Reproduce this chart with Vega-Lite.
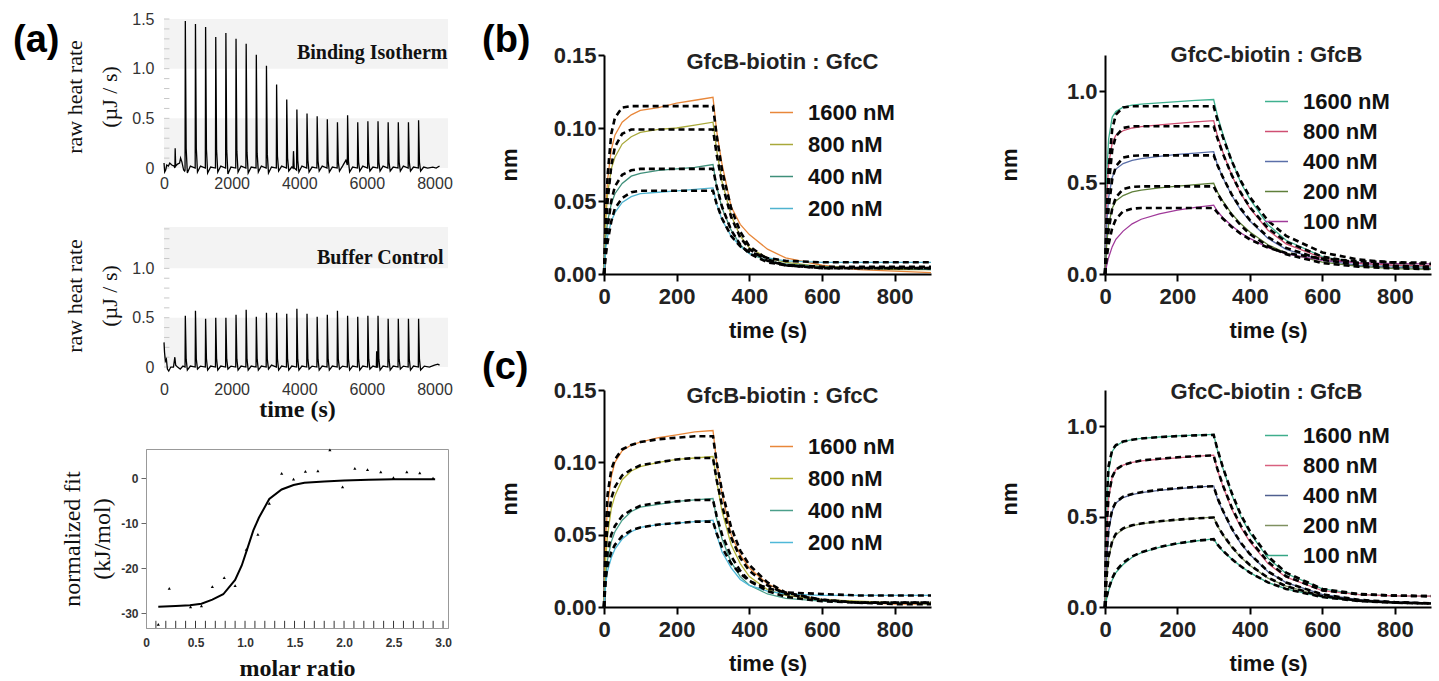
{
"$schema":"https://vega.github.io/schema/vega-lite/v6.json",
"background":"white",
"padding":{"left":13,"top":11,"right":2,"bottom":0},
"config":{"view":{"stroke":null},"axis":{"grid":false},"font":"Liberation Sans"},
"resolve":{"scale":{"color":"independent"},"legend":{"color":"independent"}},
"datasets":{
"yTicks1":[{"y":0},{"y":0.1},{"y":0.2},{"y":0.3},{"y":0.4},{"y":0.5},{"y":0.6},{"y":0.7},{"y":0.8},{"y":0.9},{"y":1},{"y":1.1},{"y":1.2},{"y":1.3},{"y":1.4},{"y":1.5}],
"yTicks2":[{"y":0},{"y":0.1},{"y":0.2},{"y":0.3},{"y":0.4},{"y":0.5},{"y":0.6},{"y":0.7},{"y":0.8},{"y":0.9},{"y":1},{"y":1.1},{"y":1.2},{"y":1.3},{"y":1.4}],
"itc1":[{"t":0,"y":0.05},{"t":20,"y":-0.04},{"t":50,"y":-0.02},{"t":80,"y":0.03},{"t":130,"y":0.02},{"t":170,"y":0.05},{"t":230,"y":0.03},{"t":300,"y":0.02},{"t":322,"y":0},{"t":330,"y":0.2},{"t":345,"y":0.02},{"t":400,"y":0.04},{"t":460,"y":0.05},{"t":490,"y":0.1},{"t":530,"y":0.06},{"t":580,"y":-0.02},{"t":610,"y":-0.03},
{"t":622,"y":-0.02},{"t":630,"y":1.48},{"t":655,"y":0.2},{"t":690,"y":-0.05},{"t":780,"y":0.02},
{"t":922,"y":0},{"t":930,"y":1.45},{"t":955,"y":0.2},{"t":990,"y":-0.04},{"t":1080,"y":0.02},
{"t":1222,"y":0},{"t":1230,"y":1.42},{"t":1255,"y":0.19},{"t":1290,"y":-0.05},{"t":1380,"y":0.01},
{"t":1522,"y":0},{"t":1530,"y":1.32},{"t":1555,"y":0.18},{"t":1590,"y":-0.04},{"t":1680,"y":0.02},
{"t":1822,"y":0},{"t":1830,"y":1.36},{"t":1855,"y":0.18},{"t":1890,"y":-0.06},{"t":1980,"y":0.01},
{"t":2122,"y":0},{"t":2130,"y":1.3},{"t":2155,"y":0.17},{"t":2190,"y":-0.04},{"t":2280,"y":0.02},
{"t":2422,"y":0},{"t":2430,"y":1.25},{"t":2455,"y":0.16},{"t":2490,"y":-0.05},{"t":2580,"y":0.01},
{"t":2722,"y":0},{"t":2730,"y":1.14},{"t":2755,"y":0.15},{"t":2790,"y":-0.04},{"t":2880,"y":0.02},
{"t":3022,"y":0},{"t":3030,"y":1.03},{"t":3055,"y":0.14},{"t":3090,"y":-0.05},{"t":3180,"y":0.01},
{"t":3322,"y":0},{"t":3330,"y":0.84},{"t":3355,"y":0.12},{"t":3390,"y":-0.03},{"t":3480,"y":0.02},
{"t":3622,"y":0},{"t":3630,"y":0.69},{"t":3655,"y":0.1},{"t":3690,"y":-0.03},{"t":3780,"y":0.01},{"t":3815,"y":0},{"t":3830,"y":0.17},{"t":3850,"y":0},
{"t":3922,"y":-0.02},{"t":3930,"y":0.59},{"t":3955,"y":0.08},{"t":3990,"y":-0.04},{"t":4080,"y":0.02},
{"t":4222,"y":0},{"t":4230,"y":0.55},{"t":4255,"y":0.08},{"t":4290,"y":-0.04},{"t":4380,"y":0.01},
{"t":4522,"y":0},{"t":4530,"y":0.52},{"t":4555,"y":0.07},{"t":4590,"y":-0.03},{"t":4680,"y":0.02},
{"t":4822,"y":0},{"t":4830,"y":0.49},{"t":4855,"y":0.07},{"t":4890,"y":-0.04},{"t":4980,"y":0.01},
{"t":5122,"y":0},{"t":5130,"y":0.46},{"t":5155,"y":0.06},{"t":5190,"y":-0.03},{"t":5280,"y":0.02},{"t":5380,"y":0.08},
{"t":5422,"y":0.03},{"t":5430,"y":0.53},{"t":5455,"y":0.07},{"t":5490,"y":-0.04},{"t":5580,"y":0.01},
{"t":5722,"y":0},{"t":5730,"y":0.46},{"t":5755,"y":0.06},{"t":5790,"y":-0.03},{"t":5880,"y":0.02},
{"t":6022,"y":0},{"t":6030,"y":0.47},{"t":6055,"y":0.06},{"t":6090,"y":-0.03},{"t":6180,"y":0.01},
{"t":6322,"y":0},{"t":6330,"y":0.47},{"t":6355,"y":0.06},{"t":6390,"y":-0.03},{"t":6480,"y":0.02},
{"t":6622,"y":0},{"t":6630,"y":0.46},{"t":6655,"y":0.06},{"t":6690,"y":-0.03},{"t":6780,"y":0.01},
{"t":6922,"y":0},{"t":6930,"y":0.46},{"t":6955,"y":0.06},{"t":6990,"y":-0.03},{"t":7080,"y":0.02},
{"t":7222,"y":0},{"t":7230,"y":0.46},{"t":7255,"y":0.06},{"t":7290,"y":-0.03},{"t":7380,"y":0.01},
{"t":7522,"y":0},{"t":7530,"y":0.48},{"t":7555,"y":0.06},{"t":7590,"y":-0.03},{"t":7680,"y":0.01},{"t":7800,"y":0},{"t":7950,"y":0.01},{"t":8050,"y":0},{"t":8150,"y":0.02}],
"itc2":[{"t":0,"y":0.25},{"t":15,"y":0.15},{"t":40,"y":0.06},{"t":70,"y":0.08},{"t":100,"y":-0.02},{"t":140,"y":-0.04},{"t":200,"y":0},{"t":280,"y":0},{"t":320,"y":0.1},{"t":345,"y":0.02},{"t":400,"y":0},{"t":480,"y":-0.02},{"t":560,"y":0.01},
{"t":622,"y":0},{"t":630,"y":0.52},{"t":655,"y":0.08},{"t":690,"y":-0.03},{"t":780,"y":0.01},
{"t":922,"y":0},{"t":930,"y":0.57},{"t":955,"y":0.08},{"t":990,"y":-0.02},{"t":1080,"y":0.01},
{"t":1222,"y":0},{"t":1230,"y":0.49},{"t":1255,"y":0.08},{"t":1290,"y":-0.03},{"t":1380,"y":0.01},
{"t":1522,"y":0},{"t":1530,"y":0.5},{"t":1555,"y":0.08},{"t":1590,"y":-0.03},{"t":1680,"y":0.01},
{"t":1822,"y":0},{"t":1830,"y":0.5},{"t":1855,"y":0.08},{"t":1890,"y":-0.02},{"t":1980,"y":0.01},
{"t":2122,"y":0},{"t":2130,"y":0.53},{"t":2155,"y":0.08},{"t":2190,"y":-0.03},{"t":2280,"y":0.01},
{"t":2422,"y":0},{"t":2430,"y":0.58},{"t":2455,"y":0.08},{"t":2490,"y":-0.03},{"t":2580,"y":0.01},
{"t":2722,"y":0},{"t":2730,"y":0.51},{"t":2755,"y":0.08},{"t":2790,"y":-0.03},{"t":2880,"y":0.01},
{"t":3022,"y":0},{"t":3030,"y":0.55},{"t":3055,"y":0.08},{"t":3090,"y":-0.02},{"t":3180,"y":0.02},
{"t":3322,"y":0},{"t":3330,"y":0.55},{"t":3355,"y":0.08},{"t":3390,"y":-0.03},{"t":3480,"y":0.01},
{"t":3622,"y":0},{"t":3630,"y":0.54},{"t":3655,"y":0.08},{"t":3690,"y":-0.03},{"t":3780,"y":0.01},
{"t":3922,"y":0},{"t":3930,"y":0.59},{"t":3955,"y":0.08},{"t":3990,"y":-0.03},{"t":4080,"y":0.01},
{"t":4222,"y":0},{"t":4230,"y":0.54},{"t":4255,"y":0.08},{"t":4290,"y":-0.02},{"t":4380,"y":0.01},
{"t":4522,"y":0},{"t":4530,"y":0.51},{"t":4555,"y":0.08},{"t":4590,"y":-0.03},{"t":4680,"y":0.01},
{"t":4822,"y":0},{"t":4830,"y":0.53},{"t":4855,"y":0.08},{"t":4890,"y":-0.03},{"t":4980,"y":0.01},
{"t":5122,"y":0},{"t":5130,"y":0.57},{"t":5155,"y":0.08},{"t":5190,"y":-0.02},{"t":5280,"y":0.01},
{"t":5422,"y":0},{"t":5430,"y":0.52},{"t":5455,"y":0.08},{"t":5490,"y":-0.03},{"t":5580,"y":0.01},
{"t":5722,"y":0},{"t":5730,"y":0.51},{"t":5755,"y":0.08},{"t":5790,"y":-0.03},{"t":5880,"y":0.01},
{"t":6022,"y":0},{"t":6030,"y":0.52},{"t":6055,"y":0.08},{"t":6090,"y":-0.02},{"t":6180,"y":0.01},{"t":6280,"y":0},{"t":6290,"y":0.16},{"t":6300,"y":0},
{"t":6322,"y":0},{"t":6330,"y":0.52},{"t":6355,"y":0.08},{"t":6390,"y":-0.03},{"t":6480,"y":0.01},
{"t":6622,"y":0},{"t":6630,"y":0.49},{"t":6655,"y":0.08},{"t":6690,"y":-0.03},{"t":6780,"y":0.01},
{"t":6922,"y":0},{"t":6930,"y":0.49},{"t":6955,"y":0.08},{"t":6990,"y":-0.02},{"t":7080,"y":0.01},
{"t":7222,"y":0},{"t":7230,"y":0.49},{"t":7255,"y":0.08},{"t":7290,"y":-0.03},{"t":7380,"y":0.01},
{"t":7522,"y":0},{"t":7530,"y":0.49},{"t":7555,"y":0.08},{"t":7590,"y":-0.03},{"t":7700,"y":0.01},{"t":7850,"y":0},{"t":8000,"y":0.02},{"t":8100,"y":0.03},{"t":8150,"y":0.02}],
"itcPts":[{"x":0.124,"y":-32.5},{"x":0.235,"y":-24.5},{"x":0.45,"y":-28.6},{"x":0.56,"y":-28.4},{"x":0.67,"y":-24.1},{"x":0.79,"y":-22.1},{"x":0.9,"y":-23.9},{"x":1.013,"y":-15.8},{"x":1.13,"y":-12.5},{"x":1.245,"y":-5.6},{"x":1.37,"y":1.1},{"x":1.49,"y":-0.2},{"x":1.61,"y":1.5},{"x":1.736,"y":1.65},{"x":1.857,"y":6.3},{"x":1.985,"y":-1.9},{"x":2.109,"y":2.2},{"x":2.237,"y":1.9},{"x":2.371,"y":1.4},{"x":2.499,"y":0.15},{"x":2.634,"y":1.4},{"x":2.765,"y":1.2},{"x":2.899,"y":0}],
"itcFit":[{"x":0.124,"y":-28.6},{"x":0.3,"y":-28.4},{"x":0.444,"y":-28.25},{"x":0.56,"y":-27.9},{"x":0.67,"y":-27},{"x":0.78,"y":-25.8},{"x":0.9,"y":-22.6},{"x":0.967,"y":-19.4},{"x":1.017,"y":-16.1},{"x":1.084,"y":-11.6},{"x":1.14,"y":-8.8},{"x":1.245,"y":-4.6},{"x":1.37,"y":-2.5},{"x":1.49,"y":-1.5},{"x":1.6,"y":-1},{"x":1.8,"y":-0.7},{"x":2,"y":-0.5},{"x":2.25,"y":-0.35},{"x":2.5,"y":-0.25},{"x":2.75,"y":-0.2},{"x":2.92,"y":-0.2}],
"itcTicks":[{"x":0.1},{"x":0.2},{"x":0.3},{"x":0.4},{"x":0.5},{"x":0.6},{"x":0.7},{"x":0.8},{"x":0.9},{"x":1},{"x":1.1},{"x":1.2},{"x":1.3},{"x":1.4},{"x":1.5},{"x":1.6},{"x":1.7},{"x":1.8},{"x":1.9},{"x":2},{"x":2.1},{"x":2.2},{"x":2.3},{"x":2.4},{"x":2.5},{"x":2.6},{"x":2.7},{"x":2.8},{"x":2.9},{"x":3}],
"b1":[
{"c":"1600 nM","t":0,"d":0,"f":0},{"c":"1600 nM","t":5,"d":0.045,"f":0.041},{"c":"1600 nM","t":10,"d":0.065,"f":0.068},{"c":"1600 nM","t":20,"d":0.085,"f":0.096},{"c":"1600 nM","t":30,"d":0.095,"f":0.107},{"c":"1600 nM","t":50,"d":0.104,"f":0.114},{"c":"1600 nM","t":75,"d":0.109,"f":0.115},{"c":"1600 nM","t":100,"d":0.112,"f":0.115},{"c":"1600 nM","t":150,"d":0.114,"f":0.115},{"c":"1600 nM","t":200,"d":0.117,"f":0.115},{"c":"1600 nM","t":250,"d":0.119,"f":0.115},{"c":"1600 nM","t":300,"d":0.121,"f":0.115},{"c":"1600 nM","t":310,"d":0.098,"f":0.095},{"c":"1600 nM","t":325,"d":0.075,"f":0.071},{"c":"1600 nM","t":350,"d":0.046,"f":0.045},{"c":"1600 nM","t":375,"d":0.034,"f":0.029},{"c":"1600 nM","t":400,"d":0.027,"f":0.019},{"c":"1600 nM","t":450,"d":0.017,"f":0.01},{"c":"1600 nM","t":500,"d":0.011,"f":0.006},{"c":"1600 nM","t":600,"d":0.006,"f":0.004},{"c":"1600 nM","t":700,"d":0.003,"f":0.004},{"c":"1600 nM","t":800,"d":0.002,"f":0.004},{"c":"1600 nM","t":900,"d":0.001,"f":0.004},
{"c":"800 nM","t":0,"d":0,"f":0},{"c":"800 nM","t":5,"d":0.038,"f":0.03},{"c":"800 nM","t":10,"d":0.055,"f":0.05},{"c":"800 nM","t":20,"d":0.072,"f":0.074},{"c":"800 nM","t":30,"d":0.08,"f":0.087},{"c":"800 nM","t":50,"d":0.089,"f":0.096},{"c":"800 nM","t":75,"d":0.094,"f":0.099},{"c":"800 nM","t":100,"d":0.097,"f":0.099},{"c":"800 nM","t":150,"d":0.099,"f":0.099},{"c":"800 nM","t":200,"d":0.1,"f":0.099},{"c":"800 nM","t":250,"d":0.102,"f":0.099},{"c":"800 nM","t":300,"d":0.104,"f":0.099},{"c":"800 nM","t":310,"d":0.085,"f":0.082},{"c":"800 nM","t":325,"d":0.063,"f":0.062},{"c":"800 nM","t":350,"d":0.04,"f":0.039},{"c":"800 nM","t":375,"d":0.026,"f":0.025},{"c":"800 nM","t":400,"d":0.018,"f":0.017},{"c":"800 nM","t":450,"d":0.011,"f":0.009},{"c":"800 nM","t":500,"d":0.008,"f":0.006},{"c":"800 nM","t":600,"d":0.005,"f":0.004},{"c":"800 nM","t":700,"d":0.004,"f":0.004},{"c":"800 nM","t":800,"d":0.003,"f":0.004},{"c":"800 nM","t":900,"d":0.003,"f":0.004},
{"c":"400 nM","t":0,"d":0,"f":0},{"c":"400 nM","t":5,"d":0.025,"f":0.019},{"c":"400 nM","t":10,"d":0.036,"f":0.032},{"c":"400 nM","t":20,"d":0.048,"f":0.05},{"c":"400 nM","t":30,"d":0.055,"f":0.06},{"c":"400 nM","t":50,"d":0.062,"f":0.068},{"c":"400 nM","t":75,"d":0.067,"f":0.071},{"c":"400 nM","t":100,"d":0.069,"f":0.072},{"c":"400 nM","t":150,"d":0.071,"f":0.072},{"c":"400 nM","t":200,"d":0.072,"f":0.072},{"c":"400 nM","t":250,"d":0.073,"f":0.072},{"c":"400 nM","t":300,"d":0.075,"f":0.072},{"c":"400 nM","t":310,"d":0.06,"f":0.06},{"c":"400 nM","t":325,"d":0.045,"f":0.046},{"c":"400 nM","t":350,"d":0.03,"f":0.03},{"c":"400 nM","t":375,"d":0.02,"f":0.02},{"c":"400 nM","t":400,"d":0.014,"f":0.014},{"c":"400 nM","t":450,"d":0.009,"f":0.008},{"c":"400 nM","t":500,"d":0.007,"f":0.006},{"c":"400 nM","t":600,"d":0.005,"f":0.005},{"c":"400 nM","t":700,"d":0.004,"f":0.005},{"c":"400 nM","t":800,"d":0.004,"f":0.005},{"c":"400 nM","t":900,"d":0.003,"f":0.005},
{"c":"200 nM","t":0,"d":0,"f":0},{"c":"200 nM","t":5,"d":0.018,"f":0.013},{"c":"200 nM","t":10,"d":0.026,"f":0.022},{"c":"200 nM","t":20,"d":0.036,"f":0.036},{"c":"200 nM","t":30,"d":0.042,"f":0.045},{"c":"200 nM","t":50,"d":0.049,"f":0.052},{"c":"200 nM","t":75,"d":0.053,"f":0.056},{"c":"200 nM","t":100,"d":0.055,"f":0.057},{"c":"200 nM","t":150,"d":0.056,"f":0.057},{"c":"200 nM","t":200,"d":0.057,"f":0.057},{"c":"200 nM","t":250,"d":0.058,"f":0.057},{"c":"200 nM","t":300,"d":0.059,"f":0.057},{"c":"200 nM","t":310,"d":0.048,"f":0.048},{"c":"200 nM","t":325,"d":0.037,"f":0.038},{"c":"200 nM","t":350,"d":0.026,"f":0.026},{"c":"200 nM","t":375,"d":0.019,"f":0.019},{"c":"200 nM","t":400,"d":0.014,"f":0.015},{"c":"200 nM","t":450,"d":0.011,"f":0.011},{"c":"200 nM","t":500,"d":0.009,"f":0.009},{"c":"200 nM","t":600,"d":0.008,"f":0.008},{"c":"200 nM","t":700,"d":0.008,"f":0.008},{"c":"200 nM","t":800,"d":0.008,"f":0.008},{"c":"200 nM","t":900,"d":0.008,"f":0.008}],
"b2":[
{"c":"1600 nM","t":0,"d":0,"f":0},{"c":"1600 nM","t":5,"d":0.55,"f":0.36},{"c":"1600 nM","t":10,"d":0.74,"f":0.58},{"c":"1600 nM","t":20,"d":0.86,"f":0.795},{"c":"1600 nM","t":30,"d":0.89,"f":0.873},{"c":"1600 nM","t":50,"d":0.914,"f":0.913},{"c":"1600 nM","t":75,"d":0.925,"f":0.919},{"c":"1600 nM","t":100,"d":0.931,"f":0.919},{"c":"1600 nM","t":150,"d":0.938,"f":0.919},{"c":"1600 nM","t":200,"d":0.945,"f":0.919},{"c":"1600 nM","t":250,"d":0.951,"f":0.919},{"c":"1600 nM","t":300,"d":0.956,"f":0.919},{"c":"1600 nM","t":310,"d":0.87,"f":0.848},{"c":"1600 nM","t":325,"d":0.77,"f":0.753},{"c":"1600 nM","t":350,"d":0.62,"f":0.618},{"c":"1600 nM","t":375,"d":0.5,"f":0.51},{"c":"1600 nM","t":400,"d":0.41,"f":0.421},{"c":"1600 nM","t":450,"d":0.27,"f":0.292},{"c":"1600 nM","t":500,"d":0.185,"f":0.209},{"c":"1600 nM","t":600,"d":0.095,"f":0.118},{"c":"1600 nM","t":700,"d":0.058,"f":0.079},{"c":"1600 nM","t":800,"d":0.045,"f":0.062},{"c":"1600 nM","t":900,"d":0.038,"f":0.055},
{"c":"800 nM","t":0,"d":0,"f":0},{"c":"800 nM","t":5,"d":0.42,"f":0.29},{"c":"800 nM","t":10,"d":0.6,"f":0.48},{"c":"800 nM","t":20,"d":0.72,"f":0.68},{"c":"800 nM","t":30,"d":0.76,"f":0.755},{"c":"800 nM","t":50,"d":0.785,"f":0.8},{"c":"800 nM","t":75,"d":0.8,"f":0.81},{"c":"800 nM","t":100,"d":0.808,"f":0.81},{"c":"800 nM","t":150,"d":0.817,"f":0.81},{"c":"800 nM","t":200,"d":0.825,"f":0.81},{"c":"800 nM","t":250,"d":0.833,"f":0.81},{"c":"800 nM","t":300,"d":0.84,"f":0.81},{"c":"800 nM","t":310,"d":0.76,"f":0.746},{"c":"800 nM","t":325,"d":0.67,"f":0.662},{"c":"800 nM","t":350,"d":0.54,"f":0.542},{"c":"800 nM","t":375,"d":0.44,"f":0.445},{"c":"800 nM","t":400,"d":0.36,"f":0.366},{"c":"800 nM","t":450,"d":0.24,"f":0.251},{"c":"800 nM","t":500,"d":0.165,"f":0.177},{"c":"800 nM","t":600,"d":0.088,"f":0.095},{"c":"800 nM","t":700,"d":0.058,"f":0.061},{"c":"800 nM","t":800,"d":0.048,"f":0.046},{"c":"800 nM","t":900,"d":0.044,"f":0.04},
{"c":"400 nM","t":0,"d":0,"f":0},{"c":"400 nM","t":5,"d":0.28,"f":0.215},{"c":"400 nM","t":10,"d":0.42,"f":0.36},{"c":"400 nM","t":20,"d":0.53,"f":0.52},{"c":"400 nM","t":30,"d":0.575,"f":0.59},{"c":"400 nM","t":50,"d":0.605,"f":0.638},{"c":"400 nM","t":75,"d":0.622,"f":0.648},{"c":"400 nM","t":100,"d":0.632,"f":0.65},{"c":"400 nM","t":150,"d":0.645,"f":0.65},{"c":"400 nM","t":200,"d":0.655,"f":0.65},{"c":"400 nM","t":250,"d":0.662,"f":0.65},{"c":"400 nM","t":300,"d":0.67,"f":0.65},{"c":"400 nM","t":310,"d":0.6,"f":0.599},{"c":"400 nM","t":325,"d":0.53,"f":0.532},{"c":"400 nM","t":350,"d":0.43,"f":0.435},{"c":"400 nM","t":375,"d":0.35,"f":0.358},{"c":"400 nM","t":400,"d":0.29,"f":0.295},{"c":"400 nM","t":450,"d":0.195,"f":0.203},{"c":"400 nM","t":500,"d":0.135,"f":0.143},{"c":"400 nM","t":600,"d":0.075,"f":0.078},{"c":"400 nM","t":700,"d":0.048,"f":0.05},{"c":"400 nM","t":800,"d":0.036,"f":0.039},{"c":"400 nM","t":900,"d":0.03,"f":0.034},
{"c":"200 nM","t":0,"d":0,"f":0},{"c":"200 nM","t":5,"d":0.17,"f":0.145},{"c":"200 nM","t":10,"d":0.27,"f":0.24},{"c":"200 nM","t":20,"d":0.36,"f":0.36},{"c":"200 nM","t":30,"d":0.4,"f":0.42},{"c":"200 nM","t":50,"d":0.43,"f":0.465},{"c":"200 nM","t":75,"d":0.45,"f":0.478},{"c":"200 nM","t":100,"d":0.46,"f":0.48},{"c":"200 nM","t":150,"d":0.472,"f":0.48},{"c":"200 nM","t":200,"d":0.482,"f":0.48},{"c":"200 nM","t":250,"d":0.49,"f":0.48},{"c":"200 nM","t":300,"d":0.497,"f":0.48},{"c":"200 nM","t":310,"d":0.45,"f":0.443},{"c":"200 nM","t":325,"d":0.4,"f":0.393},{"c":"200 nM","t":350,"d":0.33,"f":0.323},{"c":"200 nM","t":375,"d":0.275,"f":0.266},{"c":"200 nM","t":400,"d":0.23,"f":0.219},{"c":"200 nM","t":450,"d":0.16,"f":0.152},{"c":"200 nM","t":500,"d":0.115,"f":0.108},{"c":"200 nM","t":600,"d":0.065,"f":0.06},{"c":"200 nM","t":700,"d":0.042,"f":0.04},{"c":"200 nM","t":800,"d":0.03,"f":0.031},{"c":"200 nM","t":900,"d":0.025,"f":0.027},
{"c":"100 nM","t":0,"d":0,"f":0},{"c":"100 nM","t":5,"d":0.05,"f":0.094},{"c":"100 nM","t":10,"d":0.09,"f":0.163},{"c":"100 nM","t":20,"d":0.15,"f":0.253},{"c":"100 nM","t":30,"d":0.19,"f":0.3},{"c":"100 nM","t":50,"d":0.235,"f":0.344},{"c":"100 nM","t":75,"d":0.275,"f":0.358},{"c":"100 nM","t":100,"d":0.3,"f":0.362},{"c":"100 nM","t":150,"d":0.33,"f":0.362},{"c":"100 nM","t":200,"d":0.35,"f":0.362},{"c":"100 nM","t":250,"d":0.365,"f":0.362},{"c":"100 nM","t":300,"d":0.377,"f":0.362},{"c":"100 nM","t":310,"d":0.345,"f":0.337},{"c":"100 nM","t":325,"d":0.31,"f":0.304},{"c":"100 nM","t":350,"d":0.265,"f":0.258},{"c":"100 nM","t":375,"d":0.225,"f":0.22},{"c":"100 nM","t":400,"d":0.195,"f":0.189},{"c":"100 nM","t":450,"d":0.145,"f":0.144},{"c":"100 nM","t":500,"d":0.11,"f":0.115},{"c":"100 nM","t":600,"d":0.075,"f":0.084},{"c":"100 nM","t":700,"d":0.062,"f":0.07},{"c":"100 nM","t":800,"d":0.057,"f":0.064},{"c":"100 nM","t":900,"d":0.055,"f":0.062}],
"c1":[
{"c":"1600 nM","t":0,"d":0,"f":0},{"c":"1600 nM","t":5,"d":0.05,"f":0.055},{"c":"1600 nM","t":10,"d":0.07,"f":0.078},{"c":"1600 nM","t":20,"d":0.09,"f":0.095},{"c":"1600 nM","t":30,"d":0.1,"f":0.102},{"c":"1600 nM","t":50,"d":0.108,"f":0.109},{"c":"1600 nM","t":75,"d":0.112,"f":0.112},{"c":"1600 nM","t":100,"d":0.114,"f":0.114},{"c":"1600 nM","t":150,"d":0.117,"f":0.116},{"c":"1600 nM","t":200,"d":0.119,"f":0.117},{"c":"1600 nM","t":250,"d":0.121,"f":0.118},{"c":"1600 nM","t":300,"d":0.122,"f":0.118},{"c":"1600 nM","t":310,"d":0.1,"f":0.1},{"c":"1600 nM","t":325,"d":0.078,"f":0.08},{"c":"1600 nM","t":350,"d":0.05,"f":0.055},{"c":"1600 nM","t":375,"d":0.036,"f":0.039},{"c":"1600 nM","t":400,"d":0.027,"f":0.029},{"c":"1600 nM","t":450,"d":0.016,"f":0.017},{"c":"1600 nM","t":500,"d":0.01,"f":0.01},{"c":"1600 nM","t":600,"d":0.005,"f":0.005},{"c":"1600 nM","t":700,"d":0.003,"f":0.003},{"c":"1600 nM","t":800,"d":0.002,"f":0.003},{"c":"1600 nM","t":900,"d":0.002,"f":0.003},
{"c":"800 nM","t":0,"d":0,"f":0},{"c":"800 nM","t":5,"d":0.035,"f":0.04},{"c":"800 nM","t":10,"d":0.05,"f":0.058},{"c":"800 nM","t":20,"d":0.068,"f":0.075},{"c":"800 nM","t":30,"d":0.077,"f":0.083},{"c":"800 nM","t":50,"d":0.088,"f":0.091},{"c":"800 nM","t":75,"d":0.094,"f":0.095},{"c":"800 nM","t":100,"d":0.097,"f":0.098},{"c":"800 nM","t":150,"d":0.1,"f":0.1},{"c":"800 nM","t":200,"d":0.102,"f":0.102},{"c":"800 nM","t":250,"d":0.103,"f":0.103},{"c":"800 nM","t":300,"d":0.104,"f":0.103},{"c":"800 nM","t":310,"d":0.087,"f":0.088},{"c":"800 nM","t":325,"d":0.066,"f":0.07},{"c":"800 nM","t":350,"d":0.043,"f":0.048},{"c":"800 nM","t":375,"d":0.03,"f":0.034},{"c":"800 nM","t":400,"d":0.021,"f":0.025},{"c":"800 nM","t":450,"d":0.012,"f":0.015},{"c":"800 nM","t":500,"d":0.008,"f":0.009},{"c":"800 nM","t":600,"d":0.005,"f":0.005},{"c":"800 nM","t":700,"d":0.004,"f":0.003},{"c":"800 nM","t":800,"d":0.003,"f":0.003},{"c":"800 nM","t":900,"d":0.003,"f":0.003},
{"c":"400 nM","t":0,"d":0,"f":0},{"c":"400 nM","t":5,"d":0.022,"f":0.026},{"c":"400 nM","t":10,"d":0.033,"f":0.038},{"c":"400 nM","t":20,"d":0.045,"f":0.05},{"c":"400 nM","t":30,"d":0.052,"f":0.056},{"c":"400 nM","t":50,"d":0.06,"f":0.063},{"c":"400 nM","t":75,"d":0.066,"f":0.067},{"c":"400 nM","t":100,"d":0.069,"f":0.07},{"c":"400 nM","t":150,"d":0.071,"f":0.072},{"c":"400 nM","t":200,"d":0.073,"f":0.073},{"c":"400 nM","t":250,"d":0.074,"f":0.074},{"c":"400 nM","t":300,"d":0.075,"f":0.074},{"c":"400 nM","t":310,"d":0.061,"f":0.063},{"c":"400 nM","t":325,"d":0.047,"f":0.05},{"c":"400 nM","t":350,"d":0.031,"f":0.035},{"c":"400 nM","t":375,"d":0.021,"f":0.025},{"c":"400 nM","t":400,"d":0.015,"f":0.018},{"c":"400 nM","t":450,"d":0.009,"f":0.011},{"c":"400 nM","t":500,"d":0.006,"f":0.007},{"c":"400 nM","t":600,"d":0.004,"f":0.004},{"c":"400 nM","t":700,"d":0.003,"f":0.003},{"c":"400 nM","t":800,"d":0.003,"f":0.002},{"c":"400 nM","t":900,"d":0.002,"f":0.002},
{"c":"200 nM","t":0,"d":0,"f":0},{"c":"200 nM","t":5,"d":0.017,"f":0.02},{"c":"200 nM","t":10,"d":0.025,"f":0.029},{"c":"200 nM","t":20,"d":0.034,"f":0.038},{"c":"200 nM","t":30,"d":0.04,"f":0.043},{"c":"200 nM","t":50,"d":0.047,"f":0.049},{"c":"200 nM","t":75,"d":0.052,"f":0.053},{"c":"200 nM","t":100,"d":0.055,"f":0.055},{"c":"200 nM","t":150,"d":0.057,"f":0.057},{"c":"200 nM","t":200,"d":0.058,"f":0.058},{"c":"200 nM","t":250,"d":0.059,"f":0.059},{"c":"200 nM","t":300,"d":0.06,"f":0.059},{"c":"200 nM","t":310,"d":0.05,"f":0.051},{"c":"200 nM","t":325,"d":0.038,"f":0.041},{"c":"200 nM","t":350,"d":0.027,"f":0.03},{"c":"200 nM","t":375,"d":0.019,"f":0.023},{"c":"200 nM","t":400,"d":0.015,"f":0.018},{"c":"200 nM","t":450,"d":0.011,"f":0.013},{"c":"200 nM","t":500,"d":0.009,"f":0.01},{"c":"200 nM","t":600,"d":0.008,"f":0.009},{"c":"200 nM","t":700,"d":0.008,"f":0.008},{"c":"200 nM","t":800,"d":0.008,"f":0.008},{"c":"200 nM","t":900,"d":0.008,"f":0.008}],
"c2":[
{"c":"1600 nM","t":0,"d":0,"f":0},{"c":"1600 nM","t":5,"d":0.55,"f":0.6},{"c":"1600 nM","t":10,"d":0.75,"f":0.78},{"c":"1600 nM","t":20,"d":0.86,"f":0.87},{"c":"1600 nM","t":30,"d":0.89,"f":0.895},{"c":"1600 nM","t":50,"d":0.914,"f":0.915},{"c":"1600 nM","t":75,"d":0.925,"f":0.925},{"c":"1600 nM","t":100,"d":0.932,"f":0.932},{"c":"1600 nM","t":150,"d":0.94,"f":0.94},{"c":"1600 nM","t":200,"d":0.946,"f":0.945},{"c":"1600 nM","t":250,"d":0.951,"f":0.949},{"c":"1600 nM","t":300,"d":0.955,"f":0.952},{"c":"1600 nM","t":310,"d":0.87,"f":0.875},{"c":"1600 nM","t":325,"d":0.77,"f":0.775},{"c":"1600 nM","t":350,"d":0.62,"f":0.63},{"c":"1600 nM","t":375,"d":0.5,"f":0.51},{"c":"1600 nM","t":400,"d":0.41,"f":0.42},{"c":"1600 nM","t":450,"d":0.27,"f":0.28},{"c":"1600 nM","t":500,"d":0.185,"f":0.19},{"c":"1600 nM","t":600,"d":0.1,"f":0.1},{"c":"1600 nM","t":700,"d":0.07,"f":0.072},{"c":"1600 nM","t":800,"d":0.062,"f":0.063},{"c":"1600 nM","t":900,"d":0.06,"f":0.06},
{"c":"800 nM","t":0,"d":0,"f":0},{"c":"800 nM","t":5,"d":0.42,"f":0.45},{"c":"800 nM","t":10,"d":0.6,"f":0.62},{"c":"800 nM","t":20,"d":0.72,"f":0.72},{"c":"800 nM","t":30,"d":0.76,"f":0.76},{"c":"800 nM","t":50,"d":0.785,"f":0.785},{"c":"800 nM","t":75,"d":0.8,"f":0.8},{"c":"800 nM","t":100,"d":0.808,"f":0.81},{"c":"800 nM","t":150,"d":0.817,"f":0.82},{"c":"800 nM","t":200,"d":0.825,"f":0.828},{"c":"800 nM","t":250,"d":0.833,"f":0.834},{"c":"800 nM","t":300,"d":0.84,"f":0.838},{"c":"800 nM","t":310,"d":0.76,"f":0.765},{"c":"800 nM","t":325,"d":0.67,"f":0.675},{"c":"800 nM","t":350,"d":0.54,"f":0.55},{"c":"800 nM","t":375,"d":0.44,"f":0.45},{"c":"800 nM","t":400,"d":0.36,"f":0.37},{"c":"800 nM","t":450,"d":0.24,"f":0.25},{"c":"800 nM","t":500,"d":0.165,"f":0.17},{"c":"800 nM","t":600,"d":0.09,"f":0.092},{"c":"800 nM","t":700,"d":0.068,"f":0.07},{"c":"800 nM","t":800,"d":0.062,"f":0.063},{"c":"800 nM","t":900,"d":0.06,"f":0.06},
{"c":"400 nM","t":0,"d":0,"f":0},{"c":"400 nM","t":5,"d":0.28,"f":0.3},{"c":"400 nM","t":10,"d":0.42,"f":0.44},{"c":"400 nM","t":20,"d":0.53,"f":0.54},{"c":"400 nM","t":30,"d":0.575,"f":0.58},{"c":"400 nM","t":50,"d":0.605,"f":0.61},{"c":"400 nM","t":75,"d":0.622,"f":0.625},{"c":"400 nM","t":100,"d":0.632,"f":0.635},{"c":"400 nM","t":150,"d":0.645,"f":0.648},{"c":"400 nM","t":200,"d":0.655,"f":0.657},{"c":"400 nM","t":250,"d":0.662,"f":0.664},{"c":"400 nM","t":300,"d":0.67,"f":0.668},{"c":"400 nM","t":310,"d":0.6,"f":0.605},{"c":"400 nM","t":325,"d":0.53,"f":0.535},{"c":"400 nM","t":350,"d":0.43,"f":0.435},{"c":"400 nM","t":375,"d":0.35,"f":0.355},{"c":"400 nM","t":400,"d":0.29,"f":0.293},{"c":"400 nM","t":450,"d":0.195,"f":0.197},{"c":"400 nM","t":500,"d":0.135,"f":0.135},{"c":"400 nM","t":600,"d":0.07,"f":0.07},{"c":"400 nM","t":700,"d":0.04,"f":0.04},{"c":"400 nM","t":800,"d":0.028,"f":0.027},{"c":"400 nM","t":900,"d":0.022,"f":0.02},
{"c":"200 nM","t":0,"d":0,"f":0},{"c":"200 nM","t":5,"d":0.17,"f":0.18},{"c":"200 nM","t":10,"d":0.27,"f":0.28},{"c":"200 nM","t":20,"d":0.36,"f":0.365},{"c":"200 nM","t":30,"d":0.4,"f":0.405},{"c":"200 nM","t":50,"d":0.43,"f":0.435},{"c":"200 nM","t":75,"d":0.45,"f":0.452},{"c":"200 nM","t":100,"d":0.46,"f":0.462},{"c":"200 nM","t":150,"d":0.472,"f":0.474},{"c":"200 nM","t":200,"d":0.482,"f":0.483},{"c":"200 nM","t":250,"d":0.49,"f":0.49},{"c":"200 nM","t":300,"d":0.497,"f":0.495},{"c":"200 nM","t":310,"d":0.45,"f":0.452},{"c":"200 nM","t":325,"d":0.4,"f":0.402},{"c":"200 nM","t":350,"d":0.33,"f":0.333},{"c":"200 nM","t":375,"d":0.275,"f":0.278},{"c":"200 nM","t":400,"d":0.23,"f":0.232},{"c":"200 nM","t":450,"d":0.16,"f":0.162},{"c":"200 nM","t":500,"d":0.115,"f":0.115},{"c":"200 nM","t":600,"d":0.06,"f":0.06},{"c":"200 nM","t":700,"d":0.035,"f":0.035},{"c":"200 nM","t":800,"d":0.024,"f":0.024},{"c":"200 nM","t":900,"d":0.02,"f":0.019},
{"c":"100 nM","t":0,"d":0,"f":0},{"c":"100 nM","t":5,"d":0.05,"f":0.06},{"c":"100 nM","t":10,"d":0.09,"f":0.1},{"c":"100 nM","t":20,"d":0.15,"f":0.16},{"c":"100 nM","t":30,"d":0.19,"f":0.2},{"c":"100 nM","t":50,"d":0.235,"f":0.245},{"c":"100 nM","t":75,"d":0.275,"f":0.28},{"c":"100 nM","t":100,"d":0.3,"f":0.302},{"c":"100 nM","t":150,"d":0.33,"f":0.332},{"c":"100 nM","t":200,"d":0.35,"f":0.352},{"c":"100 nM","t":250,"d":0.365,"f":0.366},{"c":"100 nM","t":300,"d":0.377,"f":0.375},{"c":"100 nM","t":310,"d":0.345,"f":0.347},{"c":"100 nM","t":325,"d":0.31,"f":0.312},{"c":"100 nM","t":350,"d":0.265,"f":0.265},{"c":"100 nM","t":375,"d":0.225,"f":0.225},{"c":"100 nM","t":400,"d":0.19,"f":0.19},{"c":"100 nM","t":450,"d":0.135,"f":0.136},{"c":"100 nM","t":500,"d":0.1,"f":0.1},{"c":"100 nM","t":600,"d":0.055,"f":0.055},{"c":"100 nM","t":700,"d":0.033,"f":0.033},{"c":"100 nM","t":800,"d":0.024,"f":0.024},{"c":"100 nM","t":900,"d":0.02,"f":0.02}]
},
"concat":[
{
"title":{"text":"(a)","anchor":"start","frame":"group","orient":"top","fontSize":38,"fontWeight":"bold","font":"Liberation Sans","color":"#000","dx":-133,"dy":87,"baseline":"bottom","offset":0},
"concat":[
{"width":302,"height":155,
"layer":[
{"data":{"values":[{"lo":0,"hi":0.5},{"lo":1,"hi":1.5}]},"mark":{"type":"rect","color":"#f3f3f3"},"encoding":{"x":{"datum":0},"x2":{"datum":8400},"y":{"field":"lo","type":"quantitative","scale":{"domain":[-0.06,1.5],"nice":false}},"y2":{"field":"hi"}}},
{"data":{"name":"yTicks1"},"mark":{"type":"rule","color":"#c8c8c8","strokeWidth":1},"encoding":{"y":{"field":"y","type":"quantitative"},"x":{"datum":0},"x2":{"datum":160}}},
{"data":{"name":"itc1"},"mark":{"type":"line","color":"black","strokeWidth":1.3},"encoding":{
"x":{"field":"t","type":"quantitative","scale":{"domain":[-533,8400],"nice":false},"axis":{"values":[0,2000,4000,6000,8000],"format":"d","title":null,"domain":false,"ticks":false,"labelFont":"Liberation Sans","labelFontSize":16,"labelColor":"#333","labelPadding":1,"labelFlush":false}},
"y":{"field":"y","type":"quantitative","scale":{"domain":[-0.06,1.5],"nice":false},"axis":{"offset":-18,"values":[0,0.5,1,1.5],"labelExpr":"datum.value == 0 ? '0' : format(datum.value, '.1f')","domain":false,"ticks":false,"labelFont":"Liberation Sans","labelFontSize":16,"labelColor":"#333","labelPadding":10,"title":["raw heat rate","(µJ / s)"],"titleFont":"Liberation Serif","titleFontSize":22,"titleFontWeight":"normal","titleColor":"#111","titleLineHeight":35,"titlePadding":10}}}},
{"data":{"values":[{"label":"Binding Isotherm"}]},"mark":{"type":"text","font":"Liberation Serif","fontSize":20,"fontWeight":"bold","align":"right","baseline":"middle","color":"#111"},"encoding":{"x":{"datum":8385},"y":{"datum":1.16},"text":{"field":"label"}}}
]},
{"width":302,"height":155,
"layer":[
{"data":{"values":[{"lo":0,"hi":0.5},{"lo":1,"hi":1.42}]},"mark":{"type":"rect","color":"#f3f3f3"},"encoding":{"x":{"datum":0},"x2":{"datum":8400},"y":{"field":"lo","type":"quantitative","scale":{"domain":[-0.06,1.51],"nice":false}},"y2":{"field":"hi"}}},
{"data":{"name":"yTicks2"},"mark":{"type":"rule","color":"#c8c8c8","strokeWidth":1},"encoding":{"y":{"field":"y","type":"quantitative"},"x":{"datum":0},"x2":{"datum":160}}},
{"data":{"name":"itc2"},"mark":{"type":"line","color":"black","strokeWidth":1.3},"encoding":{
"x":{"field":"t","type":"quantitative","scale":{"domain":[-533,8400],"nice":false},"axis":{"values":[0,2000,4000,6000,8000],"format":"d","title":"time (s)","titleFont":"Liberation Serif","titleFontSize":24,"titleFontWeight":"bold","titleColor":"#111","titlePadding":0,"domain":false,"ticks":false,"labelFont":"Liberation Sans","labelFontSize":16,"labelColor":"#333","labelPadding":8,"labelFlush":false}},
"y":{"field":"y","type":"quantitative","scale":{"domain":[-0.06,1.51],"nice":false},"axis":{"offset":-18,"values":[0,0.5,1],"labelExpr":"datum.value == 0 ? '0' : format(datum.value, '.1f')","domain":false,"ticks":false,"labelFont":"Liberation Sans","labelFontSize":16,"labelColor":"#333","labelPadding":10,"title":["raw heat rate","(µJ / s)"],"titleFont":"Liberation Serif","titleFontSize":22,"titleFontWeight":"normal","titleColor":"#111","titleLineHeight":35,"titlePadding":10}}}},
{"data":{"values":[{"label":"Buffer Control"}]},"mark":{"type":"text","font":"Liberation Serif","fontSize":20,"fontWeight":"bold","align":"right","baseline":"middle","color":"#111"},"encoding":{"x":{"datum":8267},"y":{"datum":1.1},"text":{"field":"label"}}}
]},
{"width":302,"height":179,"view":{"stroke":"#999","strokeWidth":1},
"layer":[
{"data":{"name":"itcFit"},"mark":{"type":"line","color":"black","strokeWidth":2},"encoding":{
"x":{"field":"x","type":"quantitative","scale":{"domain":[0,3.05],"nice":false},"axis":{"values":[0,0.5,1,1.5,2,2.5,3],"labelExpr":"datum.value == 0 ? '0' : format(datum.value, '.1f')","labelFlush":false,"ticks":false,"domainColor":"#999","labelFont":"Liberation Sans","labelFontSize":12,"labelFontWeight":"bold","labelColor":"#333","labelPadding":9,"title":"molar ratio","titleFont":"Liberation Serif","titleFontSize":24,"titleFontWeight":"bold","titleColor":"#111","titlePadding":8}},
"y":{"field":"y","type":"quantitative","scale":{"domain":[-33.3,6.5],"nice":false},"axis":{"values":[-30,-25,-20,-15,-10,-5,0,5],"labelExpr":"datum.value % 10 == 0 ? '' + datum.value : ''","labelOverlap":false,"tickSize":5,"tickColor":"#666","domainColor":"#999","labelFont":"Liberation Sans","labelFontSize":12,"labelFontWeight":"bold","labelColor":"#333","labelPadding":3,"title":["normalized fit","(kJ/mol)"],"titleFont":"Liberation Serif","titleFontSize":24,"titleFontWeight":"normal","titleColor":"#111","titleLineHeight":30,"titlePadding":6}}}},
{"data":{"name":"itcTicks"},"mark":{"type":"rule","color":"#333","strokeWidth":1},"encoding":{"x":{"field":"x","type":"quantitative"},"y":{"datum":-33.3},"y2":{"datum":-31.7}}},
{"data":{"name":"itcPts"},"mark":{"type":"point","shape":"triangle-up","filled":true,"color":"black","size":10,"opacity":1},"encoding":{"x":{"field":"x","type":"quantitative"},"y":{"field":"y","type":"quantitative"}}}
]}
],
"columns":1,"spacing":27
},
{
"resolve":{"scale":{"color":"independent"},"legend":{"color":"independent"}},
"concat":[
{"width":1,"height":3,"data":{"values":[{"k":0}]},"mark":{"type":"point","opacity":0,"size":0},"encoding":{}},
{
"resolve":{"scale":{"color":"independent"},"legend":{"color":"independent"}},
"concat":[
{"width":327,"height":219,
"title":{"text":"(b)","anchor":"start","frame":"group","orient":"top","fontSize":38,"fontWeight":"bold","font":"Liberation Sans","color":"#000","dx":-122,"dy":54,"baseline":"bottom","offset":0},
"data":{"name":"b1"},
"layer":[
{"mark":{"type":"line","strokeWidth":1.3},"encoding":{
"x":{"field":"t","type":"quantitative","scale":{"domain":[0,900],"nice":false},"axis":{"values":[0,200,400,600,800],"labelFlush":false,"title":"time (s)","titleFontSize":22,"titleFontWeight":"bold","titleColor":"#111","titlePadding":13,"labelFontSize":22,"labelFontWeight":"bold","labelColor":"#222","labelPadding":5,"domainColor":"#000","domainWidth":2,"tickColor":"#000","tickWidth":2,"tickSize":7}},
"y":{"field":"d","type":"quantitative","scale":{"domain":[0,0.15],"nice":false},"axis":{"values":[0,0.05,0.1,0.15],"format":".2f","title":"nm","titleFontSize":22,"titleFontWeight":"bold","titleColor":"#111","titlePadding":32,"labelFontSize":22,"labelFontWeight":"bold","labelColor":"#222","labelPadding":2,"domainColor":"#000","domainWidth":2,"tickColor":"#000","tickWidth":2,"tickSize":6}},
"color":{"field":"c","type":"nominal","scale":{"domain":["1600 nM","800 nM","400 nM","200 nM"],"range":["#e8873a","#a8a83a","#3f8f7a","#4fb3cf"]},"legend":{"orient":"none","legendX":165,"legendY":45,"title":null,"symbolType":"stroke","symbolSize":529,"symbolStrokeWidth":1.5,"labelFontSize":22,"labelFontWeight":"bold","labelColor":"#111","labelOffset":14,"rowPadding":8}}}},
{"mark":{"type":"line","color":"black","strokeWidth":2.6,"strokeDash":[6,4]},"encoding":{"x":{"field":"t","type":"quantitative"},"y":{"field":"f","type":"quantitative"},"detail":{"field":"c","type":"nominal"}}},
{"data":{"values":[{"label":"GfcB-biotin : GfcC"}]},"mark":{"type":"text","fontSize":22,"fontWeight":"bold","color":"#222","baseline":"middle"},"encoding":{"x":{"datum":491},"y":{"datum":0.145},"text":{"field":"label"}}}
]},
{"width":326,"height":219,
"data":{"name":"b2"},
"layer":[
{"mark":{"type":"line","strokeWidth":1.3},"encoding":{
"x":{"field":"t","type":"quantitative","scale":{"domain":[0,900],"nice":false},"axis":{"values":[0,200,400,600,800],"labelFlush":false,"title":"time (s)","titleFontSize":22,"titleFontWeight":"bold","titleColor":"#111","titlePadding":13,"labelFontSize":22,"labelFontWeight":"bold","labelColor":"#222","labelPadding":5,"domainColor":"#000","domainWidth":2,"tickColor":"#000","tickWidth":2,"tickSize":7}},
"y":{"field":"d","type":"quantitative","scale":{"domain":[0,1.2],"nice":false},"axis":{"values":[0,0.5,1],"format":".1f","title":"nm","titleFontSize":22,"titleFontWeight":"bold","titleColor":"#111","titlePadding":45,"labelFontSize":22,"labelFontWeight":"bold","labelColor":"#222","labelPadding":2,"domainColor":"#000","domainWidth":2,"tickColor":"#000","tickWidth":2,"tickSize":6}},
"color":{"field":"c","type":"nominal","scale":{"domain":["1600 nM","800 nM","400 nM","200 nM","100 nM"],"range":["#3fb08f","#cf4f72","#5a6fa8","#5f7f3a","#a03a9a"]},"legend":{"orient":"none","legendX":159,"legendY":34,"title":null,"symbolType":"stroke","symbolSize":529,"symbolStrokeWidth":1.5,"labelFontSize":22,"labelFontWeight":"bold","labelColor":"#111","labelOffset":14,"rowPadding":6}}}},
{"mark":{"type":"line","color":"black","strokeWidth":2.6,"strokeDash":[6,4]},"encoding":{"x":{"field":"t","type":"quantitative"},"y":{"field":"f","type":"quantitative"},"detail":{"field":"c","type":"nominal"}}},
{"data":{"values":[{"label":"GfcC-biotin  : GfcB"}]},"mark":{"type":"text","fontSize":22,"fontWeight":"bold","color":"#222","baseline":"middle"},"encoding":{"x":{"datum":446},"y":{"datum":1.199},"text":{"field":"label"}}}
]},
{"width":327,"height":217,
"title":{"text":"(c)","anchor":"start","frame":"group","orient":"top","fontSize":38,"fontWeight":"bold","font":"Liberation Sans","color":"#000","dx":-122,"dy":46,"baseline":"bottom","offset":0},
"data":{"name":"c1"},
"layer":[
{"mark":{"type":"line","strokeWidth":1.3},"encoding":{
"x":{"field":"t","type":"quantitative","scale":{"domain":[0,900],"nice":false},"axis":{"values":[0,200,400,600,800],"labelFlush":false,"title":"time (s)","titleFontSize":22,"titleFontWeight":"bold","titleColor":"#111","titlePadding":13,"labelFontSize":22,"labelFontWeight":"bold","labelColor":"#222","labelPadding":5,"domainColor":"#000","domainWidth":2,"tickColor":"#000","tickWidth":2,"tickSize":7}},
"y":{"field":"d","type":"quantitative","scale":{"domain":[0,0.15],"nice":false},"axis":{"values":[0,0.05,0.1,0.15],"format":".2f","title":"nm","titleFontSize":22,"titleFontWeight":"bold","titleColor":"#111","titlePadding":32,"labelFontSize":22,"labelFontWeight":"bold","labelColor":"#222","labelPadding":2,"domainColor":"#000","domainWidth":2,"tickColor":"#000","tickWidth":2,"tickSize":6}},
"color":{"field":"c","type":"nominal","scale":{"domain":["1600 nM","800 nM","400 nM","200 nM"],"range":["#e8873a","#b5b53a","#4a9f8a","#4fb8d8"]},"legend":{"orient":"none","legendX":165,"legendY":44,"title":null,"symbolType":"stroke","symbolSize":529,"symbolStrokeWidth":1.5,"labelFontSize":22,"labelFontWeight":"bold","labelColor":"#111","labelOffset":14,"rowPadding":8}}}},
{"mark":{"type":"line","color":"black","strokeWidth":2.6,"strokeDash":[6,4]},"encoding":{"x":{"field":"t","type":"quantitative"},"y":{"field":"f","type":"quantitative"},"detail":{"field":"c","type":"nominal"}}},
{"data":{"values":[{"label":"GfcB-biotin : GfcC"}]},"mark":{"type":"text","fontSize":22,"fontWeight":"bold","color":"#222","baseline":"middle"},"encoding":{"x":{"datum":491},"y":{"datum":0.1458},"text":{"field":"label"}}}
]},
{"width":326,"height":217,
"data":{"name":"c2"},
"layer":[
{"mark":{"type":"line","strokeWidth":1.3},"encoding":{
"x":{"field":"t","type":"quantitative","scale":{"domain":[0,900],"nice":false},"axis":{"values":[0,200,400,600,800],"labelFlush":false,"title":"time (s)","titleFontSize":22,"titleFontWeight":"bold","titleColor":"#111","titlePadding":13,"labelFontSize":22,"labelFontWeight":"bold","labelColor":"#222","labelPadding":5,"domainColor":"#000","domainWidth":2,"tickColor":"#000","tickWidth":2,"tickSize":7}},
"y":{"field":"d","type":"quantitative","scale":{"domain":[0,1.2],"nice":false},"axis":{"values":[0,0.5,1],"format":".1f","title":"nm","titleFontSize":22,"titleFontWeight":"bold","titleColor":"#111","titlePadding":45,"labelFontSize":22,"labelFontWeight":"bold","labelColor":"#222","labelPadding":2,"domainColor":"#000","domainWidth":2,"tickColor":"#000","tickWidth":2,"tickSize":6}},
"color":{"field":"c","type":"nominal","scale":{"domain":["1600 nM","800 nM","400 nM","200 nM","100 nM"],"range":["#3fae8c","#d8607f","#4f5f8f","#7f9060","#35a585"]},"legend":{"orient":"none","legendX":159,"legendY":33,"title":null,"symbolType":"stroke","symbolSize":529,"symbolStrokeWidth":1.5,"labelFontSize":22,"labelFontWeight":"bold","labelColor":"#111","labelOffset":14,"rowPadding":6}}}},
{"mark":{"type":"line","color":"black","strokeWidth":2.6,"strokeDash":[6,4]},"encoding":{"x":{"field":"t","type":"quantitative"},"y":{"field":"f","type":"quantitative"},"detail":{"field":"c","type":"nominal"}}},
{"data":{"values":[{"label":"GfcC-biotin  : GfcB"}]},"mark":{"type":"text","fontSize":22,"fontWeight":"bold","color":"#222","baseline":"middle"},"encoding":{"x":{"datum":446},"y":{"datum":1.188},"text":{"field":"label"}}}
]}
],
"columns":2,"spacing":{"row":8,"column":61}
}
],
"columns":1,"spacing":0
}
],
"columns":2,"spacing":29
}
